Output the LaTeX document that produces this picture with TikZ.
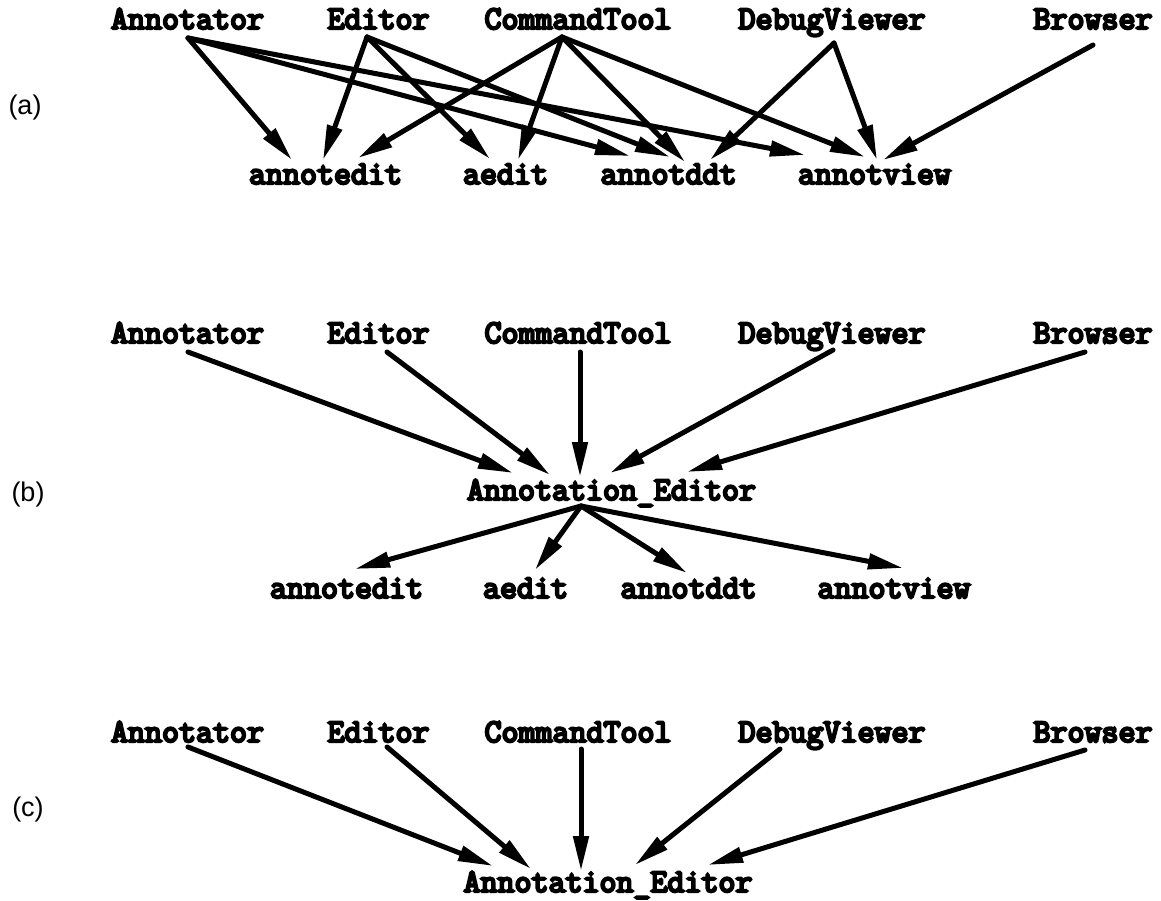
\documentclass[tikz,border=0pt]{standalone}
\usepackage{fontspec}
\usetikzlibrary{arrows.meta}
\newfontfamily\cour{Latin Modern Mono}[FakeBold=7]
\newfontfamily\labfont{Liberation Sans}

% connector from a port of one node to a port of another
\newcommand\tikzconn[4]{\draw[arr] ([shift={(#2)}]#1.base) -- ([shift={(#4)}]#3.base);}

\begin{document}
\begin{tikzpicture}[x=1pt,y=-1pt,
  mod/.style={inner sep=0pt,anchor=base,font=\cour\fontsize{33}{36}\selectfont},
  part/.style={inner sep=0pt,anchor=center,font=\labfont\fontsize{27}{30}\selectfont},
  arr/.style={line width=5pt,line cap=round,-{Triangle[length=35pt,width=15pt]}}]
\useasboundingbox (0,0) rectangle (1161,901);

% ---------------- (a) ----------------
\node[part] (la) at (25,108) {(a)};
\node[mod] (aAnn) at (187.5,29) {Annotator};
\node[mod] (aEd)  at (378.5,29) {Editor};
\node[mod] (aCT)  at (578,29)   {CommandTool};
\node[mod] (aDV)  at (832,29)   {DebugViewer};
\node[mod] (aBr)  at (1093,29)  {Browser};
\node[mod] (aAe)  at (325.5,184) {annotedit};
\node[mod] (aAed) at (505.5,184) {aedit};
\node[mod] (aAdd) at (668.5,184) {annotddt};
\node[mod] (aAv)  at (874.5,184) {annotview};

\tikzconn{aAnn}{0.5,9}{aAe}{-33.5,-24}
\tikzconn{aAnn}{0.5,9}{aAdd}{-38.5,-28}
\tikzconn{aAnn}{0.5,9}{aAv}{-69.5,-29}
\tikzconn{aEd}{-11.5,8}{aAe}{-2.5,-24}
\tikzconn{aEd}{-11.5,8}{aAed}{-15.5,-25}
\tikzconn{aEd}{-11.5,8}{aAdd}{1.5,-27}
\tikzconn{aCT}{-16,8}{aAe}{32.5,-26}
\tikzconn{aCT}{-16,8}{aAed}{12.5,-24}
\tikzconn{aCT}{-16,8}{aAdd}{16.5,-22}
\tikzconn{aCT}{-16,8}{aAv}{-9.5,-27}
\tikzconn{aDV}{2,14}{aAdd}{41.5,-24}
\tikzconn{aDV}{2,14}{aAv}{2.5,-24}
\tikzconn{aBr}{0,16}{aAv}{8.5,-24}

% ---------------- (b) ----------------
\node[part] (lb) at (28,495) {(b)};
\node[mod] (bAnn) at (187.5,343) {Annotator};
\node[mod] (bEd)  at (378.5,343) {Editor};
\node[mod] (bCT)  at (578,343)   {CommandTool};
\node[mod] (bDV)  at (832,343)   {DebugViewer};
\node[mod] (bBr)  at (1093,343)  {Browser};
\node[mod] (bAE)  at (611.5,500) {Annotation\_Editor};
\node[mod] (bAe)  at (346.5,598) {annotedit};
\node[mod] (bAed) at (525.5,598) {aedit};
\node[mod] (bAdd) at (688.5,598) {annotddt};
\node[mod] (bAv)  at (894,598)   {annotview};

\tikzconn{bAnn}{0.5,9}{bAE}{-98.5,-27}
\tikzconn{bEd}{8.5,9}{bAE}{-61.5,-25}
\tikzconn{bCT}{2,9}{bAE}{-31.5,-23}
\tikzconn{bDV}{1,7}{bAE}{-1.5,-27}
\tikzconn{bBr}{-8,9}{bAE}{75.5,-28}
\tikzconn{bAE}{-30.5,6}{bAe}{8.5,-29}
\tikzconn{bAE}{-30.5,6}{bAed}{9.5,-28}
\tikzconn{bAE}{-30.5,6}{bAdd}{-1.5,-25}
\tikzconn{bAE}{-30.5,6}{bAv}{9,-30}

% ---------------- (c) ----------------
\node[part] (lc) at (28,810) {(c)};
\node[mod] (cAnn) at (187.5,742) {Annotator};
\node[mod] (cEd)  at (378.5,742) {Editor};
\node[mod] (cCT)  at (578,742)   {CommandTool};
\node[mod] (cDV)  at (832,742)   {DebugViewer};
\node[mod] (cBr)  at (1093,742)  {Browser};
\node[mod] (cAE)  at (608,892)   {Annotation\_Editor};

\tikzconn{cAnn}{0.5,5}{cAE}{-115,-26}
\tikzconn{cEd}{8.5,5}{cAE}{-77,-23}
\tikzconn{cCT}{3,7}{cAE}{-27,-21}
\tikzconn{cDV}{-52,7}{cAE}{27,-27}
\tikzconn{cBr}{-8,8}{cAE}{100,-27}
\end{tikzpicture}
\end{document}
